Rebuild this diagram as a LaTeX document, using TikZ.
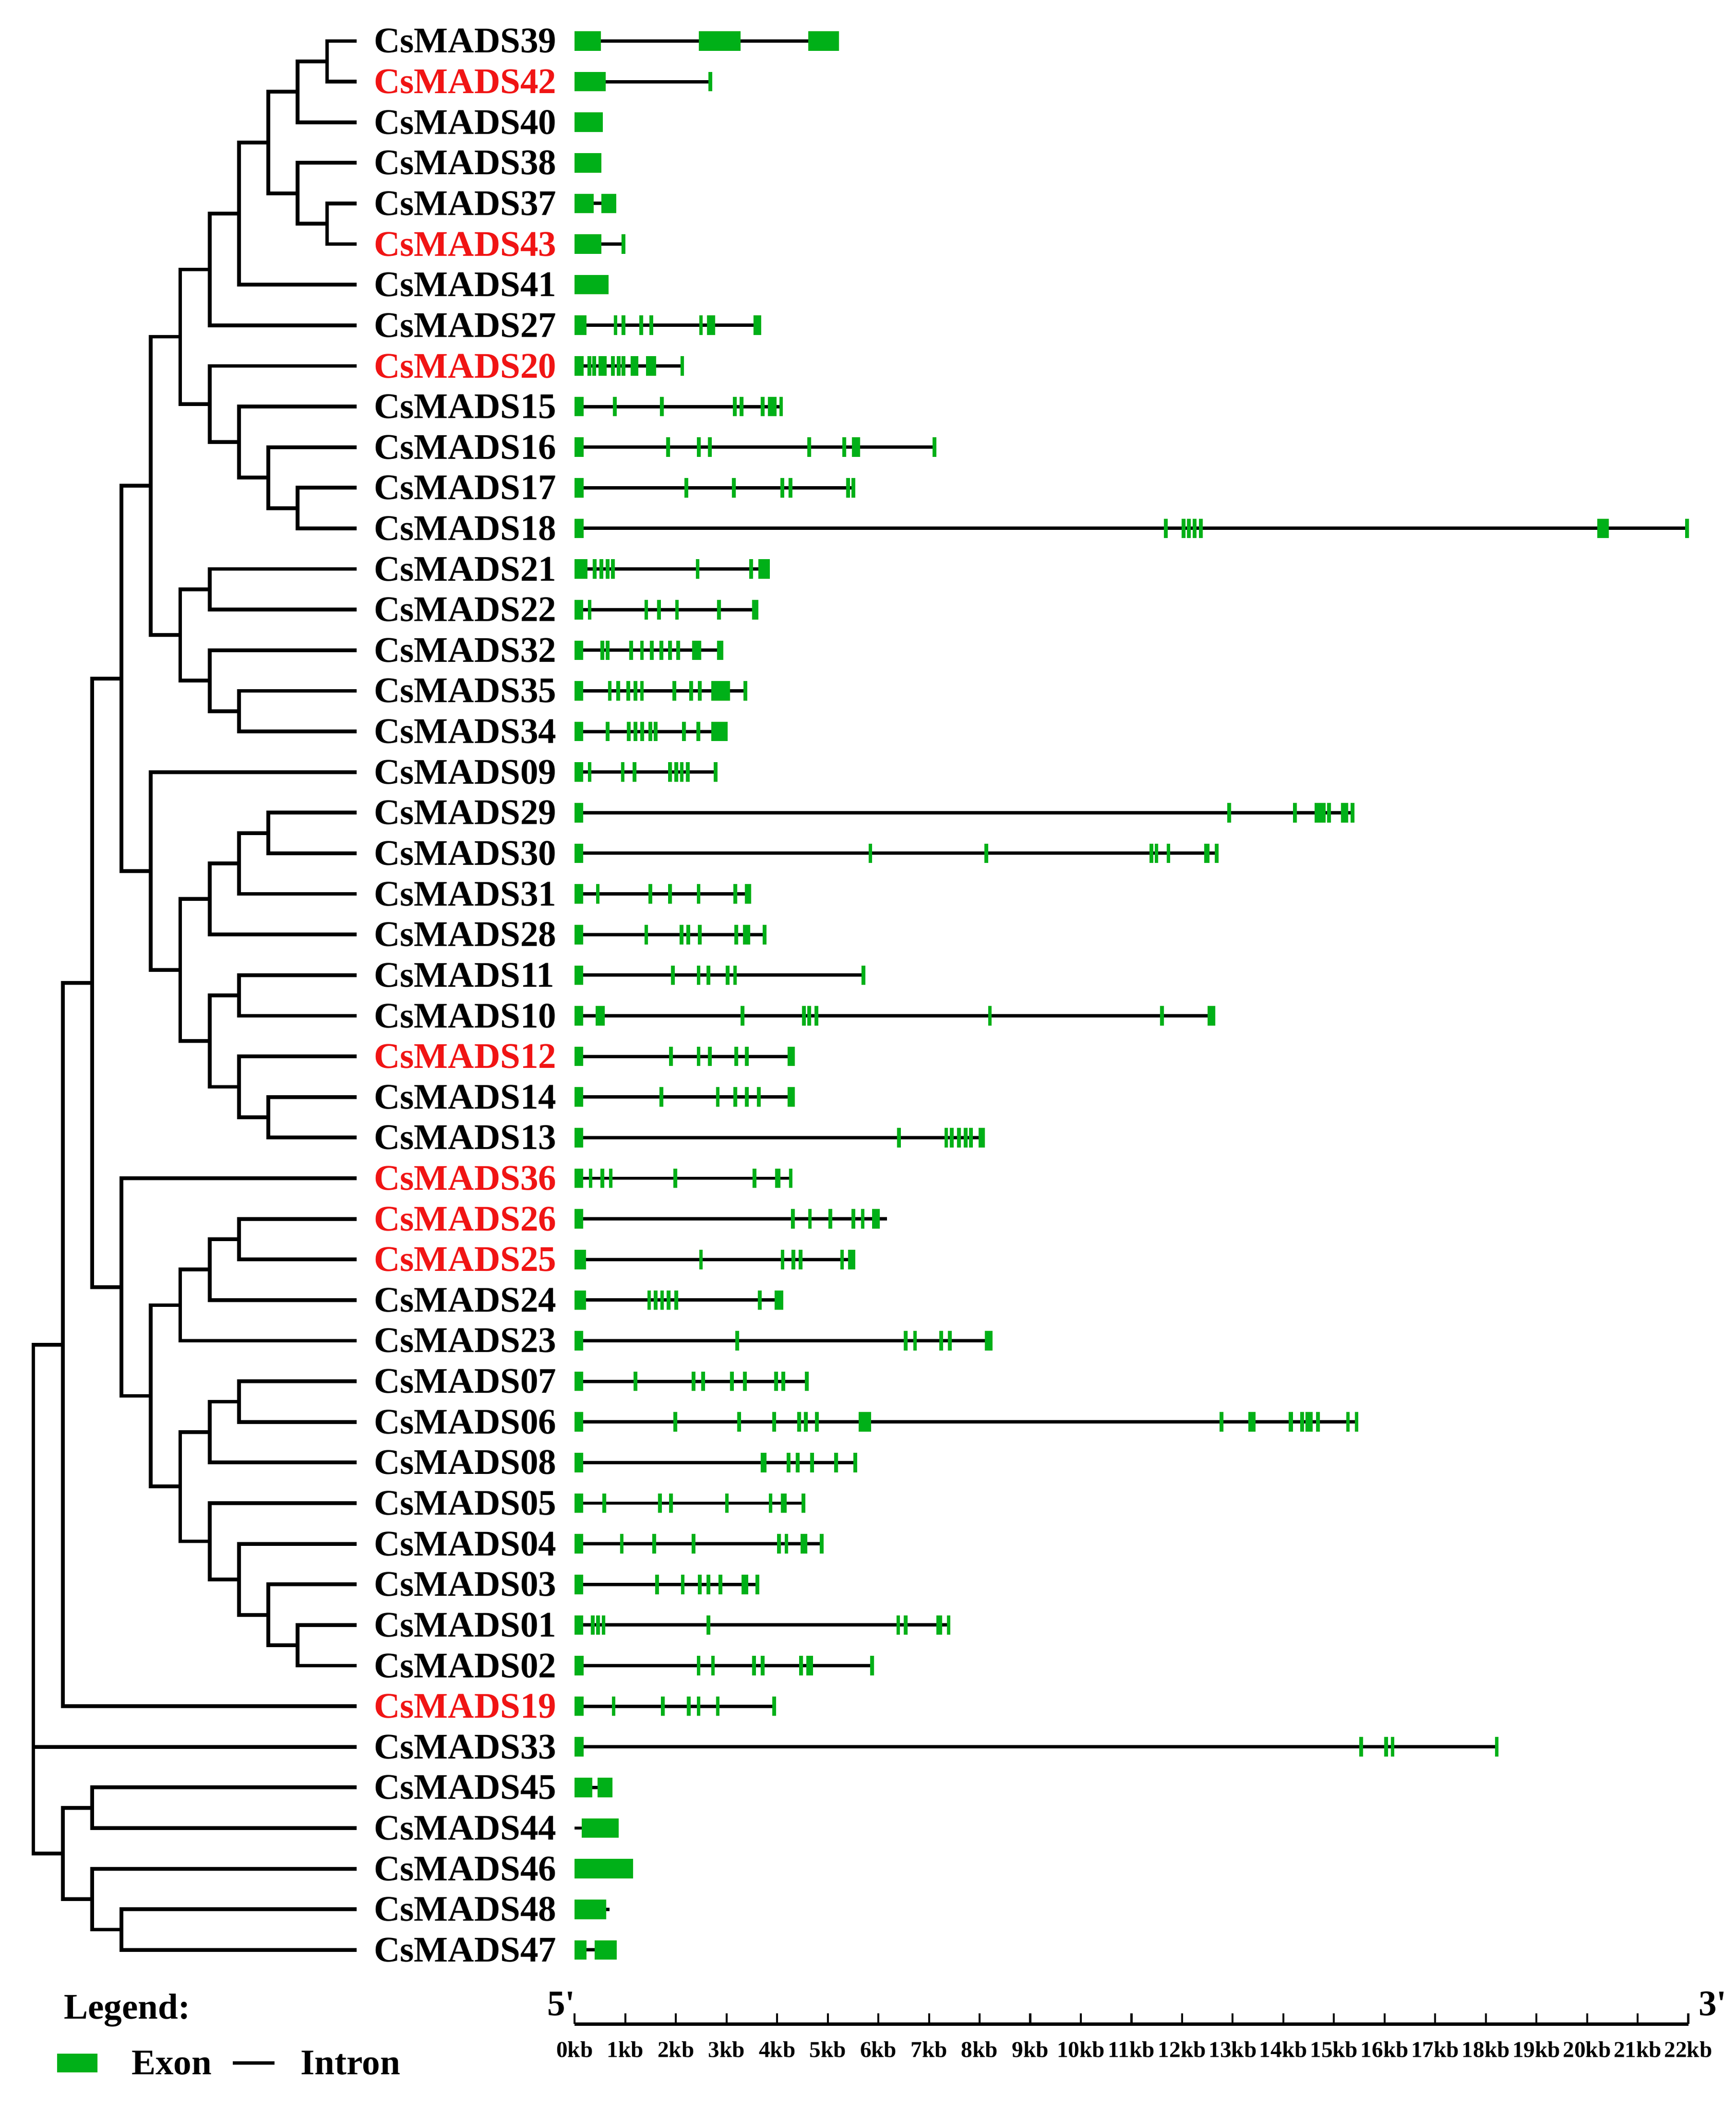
\documentclass[tikz,border=0pt]{standalone}
\usepackage{fontspec}
\setmainfont{Liberation Serif}
\newfontfamily\plainserif{Liberation Serif}[Ligatures=TeXOff]
\definecolor{exg}{RGB}{0,176,24}
\definecolor{lred}{RGB}{240,20,20}
\newcommand\Yr[1]{(30.7+30.42*(#1))}
\newcommand\gene[4]{%
  \draw[intron] (430.4,{\Yr{#1}}) -- (#2,{\Yr{#1}});
  \foreach \a/\b in {#3} {\fill[exg] (\a,{\Yr{#1}-7.3}) rectangle (\b,{\Yr{#1}+7.3});}
  \foreach \t in {#4} {\fill[exg] ({\t-1.4},{\Yr{#1}-7.3}) rectangle ({\t+1.4},{\Yr{#1}+7.3});}
}
\tikzset{
  tree/.style={line width=2.8pt, line join=miter},
  intron/.style={line width=2.5pt},
  axisline/.style={line width=2.8pt},
  tickmark/.style={line width=1.5pt},
  lab/.style={anchor=west, inner sep=0pt, font=\bfseries\fontsize{27}{27}\selectfont},
  kbl/.style={inner sep=0pt, font=\bfseries\fontsize{17}{17}\selectfont},
  legtext/.style={anchor=base west, inner sep=0pt, font=\bfseries\fontsize{27}{27}\selectfont},
  primetext/.style={inner sep=0pt, font=\plainserif\bfseries\fontsize{27}{27}\selectfont}
}
\begin{document}
\begin{tikzpicture}[x=1pt,y=-1pt]
\useasboundingbox (0,0) rectangle (1300.1,1576.6);
\fill[white] (0,0) rectangle (1300.1,1576.6);

% ---------- labels ----------
\foreach \n/\r/\c in {39/0/black,42/1/lred,40/2/black,38/3/black,37/4/black,43/5/lred,41/6/black,27/7/black,20/8/lred,15/9/black,16/10/black,17/11/black,18/12/black,21/13/black,22/14/black,32/15/black,35/16/black,34/17/black,09/18/black,29/19/black,30/20/black,31/21/black,28/22/black,11/23/black,10/24/black,12/25/lred,14/26/black,13/27/black,36/28/lred,26/29/lred,25/30/lred,24/31/black,23/32/black,07/33/black,06/34/black,08/35/black,05/36/black,04/37/black,03/38/black,01/39/black,02/40/black,19/41/lred,33/42/black,45/43/black,44/44/black,46/45/black,48/46/black,47/47/black}
  {\node[lab, text=\c] (g\n) at (280,{\Yr{\r}}) {CsMADS\n};}

% ---------- tree ----------
\foreach \r in {0,...,47} {\coordinate (l\r) at (267,{\Yr{\r}});}
\coordinate (nA) at (245,{\Yr{0.5}});
\coordinate (nB) at (223,{\Yr{1.25}});
\coordinate (nC) at (245,{\Yr{4.5}});
\coordinate (nD) at (223,{\Yr{3.75}});
\coordinate (nE) at (201,{\Yr{2.5}});
\coordinate (nF) at (179,{\Yr{4.25}});
\coordinate (nG) at (157,{\Yr{5.625}});
\coordinate (nH) at (223,{\Yr{11.5}});
\coordinate (nI) at (201,{\Yr{10.75}});
\coordinate (nJ) at (179,{\Yr{9.875}});
\coordinate (nK) at (157,{\Yr{8.9375}});
\coordinate (nL) at (135,{\Yr{7.28}});
\coordinate (nN1) at (157,{\Yr{13.5}});
\coordinate (nN2) at (179,{\Yr{16.5}});
\coordinate (nN3) at (157,{\Yr{15.75}});
\coordinate (nN4) at (135,{\Yr{14.625}});
\coordinate (nM) at (113,{\Yr{10.95}});
\coordinate (nP1) at (201,{\Yr{19.5}});
\coordinate (nP2) at (179,{\Yr{20.25}});
\coordinate (nP3) at (157,{\Yr{21.125}});
\coordinate (nQ1) at (179,{\Yr{23.5}});
\coordinate (nQ2) at (201,{\Yr{26.5}});
\coordinate (nQ3) at (179,{\Yr{25.75}});
\coordinate (nQ4) at (157,{\Yr{24.625}});
\coordinate (nR) at (135,{\Yr{22.875}});
\coordinate (nS) at (113,{\Yr{20.44}});
\coordinate (nT) at (91,{\Yr{15.7}});
\coordinate (nU1) at (179,{\Yr{29.5}});
\coordinate (nU2) at (157,{\Yr{30.25}});
\coordinate (nU3) at (135,{\Yr{31.125}});
\coordinate (nV1) at (179,{\Yr{33.5}});
\coordinate (nV2) at (157,{\Yr{34.25}});
\coordinate (nW1) at (223,{\Yr{39.5}});
\coordinate (nW2) at (201,{\Yr{38.75}});
\coordinate (nW3) at (179,{\Yr{37.875}});
\coordinate (nW4) at (157,{\Yr{36.94}});
\coordinate (nX) at (135,{\Yr{35.59}});
\coordinate (nY) at (113,{\Yr{33.36}});
\coordinate (nZ) at (91,{\Yr{30.68}});
\coordinate (nAA) at (69,{\Yr{23.19}});
\coordinate (nBB) at (47,{\Yr{32.1}});
\coordinate (nCC1) at (69,{\Yr{43.5}});
\coordinate (nCC2) at (91,{\Yr{46.5}});
\coordinate (nCC3) at (69,{\Yr{45.75}});
\coordinate (nDD) at (47,{\Yr{44.625}});
\coordinate (root) at (25,{\Yr{42}});

\foreach \p/\c in {nA/l0,nA/l1,nB/nA,nB/l2,nC/l4,nC/l5,nD/l3,nD/nC,nE/nB,nE/nD,nF/nE,nF/l6,nG/nF,nG/l7,
  nH/l11,nH/l12,nI/l10,nI/nH,nJ/l9,nJ/nI,nK/l8,nK/nJ,nL/nG,nL/nK,
  nN1/l13,nN1/l14,nN2/l16,nN2/l17,nN3/l15,nN3/nN2,nN4/nN1,nN4/nN3,nM/nL,nM/nN4,
  nP1/l19,nP1/l20,nP2/nP1,nP2/l21,nP3/nP2,nP3/l22,nQ1/l23,nQ1/l24,nQ2/l26,nQ2/l27,nQ3/l25,nQ3/nQ2,
  nQ4/nQ1,nQ4/nQ3,nR/nP3,nR/nQ4,nS/l18,nS/nR,nT/nM,nT/nS,
  nU1/l29,nU1/l30,nU2/nU1,nU2/l31,nU3/nU2,nU3/l32,nV1/l33,nV1/l34,nV2/nV1,nV2/l35,
  nW1/l39,nW1/l40,nW2/l38,nW2/nW1,nW3/l37,nW3/nW2,nW4/l36,nW4/nW3,nX/nV2,nX/nW4,nY/nU3,nY/nX,
  nZ/l28,nZ/nY,nAA/nT,nAA/nZ,nBB/nAA,nBB/l41,
  nCC1/l43,nCC1/l44,nCC2/l46,nCC2/l47,nCC3/l45,nCC3/nCC2,nDD/nCC1,nDD/nCC3,
  root/nBB,root/l42,root/nDD}
  {\draw[tree] (\p) |- (\c);}

% ---------- gene structures ----------
\gene{0}{628.4}{430.4/450, 523.5/554.8, 605.5/628.4}{432}
\gene{1}{532.5}{430.4/453.5}{532}
\gene{2}{451.4}{430.4/451.4}{432}
\gene{3}{450.5}{430.4/450.5}{432}
\gene{4}{461.6}{430.4/444.6, 450.5/461.6}{432}
\gene{5}{467.8}{430.4/450.5}{467}
\gene{6}{455.9}{430.4/455.9}{432}
\gene{7}{570}{430.4/439.2, 529.5/535.5, 564.5/570}{461, 467, 480.3, 487.8, 525}
\gene{8}{511.6}{430.4/437.1, 448.4/454.4, 472.3/478.2, 483.9/491.4}{441.5, 445, 458.9, 463.4, 467, 511}
\gene{9}{585.5}{430.4/437.1, 575/581.6}{460.4, 495.8, 550.4, 555.4, 571.2, 585}
\gene{10}{700.3}{430.4/437.1, 638/644.2}{500.3, 523.5, 531.6, 606, 632.3, 700}
\gene{11}{640}{430.4/437.1}{514, 549.5, 586, 592, 635.3, 639.2}
\gene{12}{1263.7}{430.4/437.1, 1196.4/1204.8}{873.1, 886.3, 890.5, 894.7, 899.5, 1263.5}
\gene{13}{576.5}{430.4/440, 568/576.5}{445.5, 450.3, 455.1, 459, 522.5, 562.6}
\gene{14}{568.1}{430.4/436.8, 563.3/568.1}{441.6, 484, 493.6, 507, 538.6}
\gene{15}{541.8}{430.4/436.8, 518.4/525.1, 537/541.8}{451, 455, 472.8, 480.8, 488.2, 495.2, 501.7, 508}
\gene{16}{558.5}{430.4/436.8, 522.5/525.7, 532.8/546.6}{456.7, 463, 470.5, 476, 480.8, 505, 517.7, 558.3}
\gene{17}{545}{430.4/436.8, 532.8/545}{455, 471, 476, 481, 487, 491, 512.3, 523}
\gene{18}{536}{430.4/436.8}{441.6, 466.4, 475.3, 501.7, 506.5, 510.6, 515.1, 536}
\gene{19}{1013.4}{430.4/436.8, 1004.2/1009.8}{920.5, 969.9, 985.9, 988.7, 991.5, 995.2, 1013}
\gene{20}{911.6}{430.4/436.8, 901.7/906}{651.9, 738.6, 862.4, 866.1, 875.1, 911.3}
\gene{21}{562.6}{430.4/436.8, 557.8/562.6}{447.7, 487.2, 501.7, 523.2, 550.8}
\gene{22}{573}{430.4/436.8, 556.5/561.7}{484, 510.3, 515.5, 524.1, 551.4, 572.5}
\gene{23}{647}{430.4/436.8}{504, 523.2, 530.6, 545, 550.5, 646.7}
\gene{24}{910}{430.4/436.8, 446.1/452.9, 904.5/910}{556.2, 602.1, 606, 611.4, 741.4, 870.2}
\gene{25}{595.4}{430.4/436.8, 590/595.4}{502.6, 523.2, 531.5, 551.4, 559.4}
\gene{26}{595.4}{430.4/436.8, 590/595.4}{495.2, 537.6, 550.8, 559.4, 568.4}
\gene{27}{737.6}{430.4/436.8, 732.8/737.6}{673.4, 708.7, 712.9, 718.3, 723.2, 727.3}
\gene{28}{592.5}{430.4/436.8, 580.5/584.5}{442.3, 451, 457.4, 505.8, 565.2, 592.2}
\gene{29}{664.4}{430.4/436.8, 653.2/659}{593.8, 606.6, 622, 639, 646.1}
\gene{30}{640.6}{430.4/439, 635/640.6}{525, 586.1, 594.1, 599.6, 630.7}
\gene{31}{586.7}{430.4/439, 580.3/586.7}{486.2, 491, 495.9, 500.7, 506.5, 569}
\gene{32}{743.4}{430.4/436.8, 737.6/743.4}{552, 678.2, 685.3, 704.8, 711.3}
\gene{33}{604.4}{430.4/436.8}{476, 519.3, 526.7, 548.2, 557.8, 581.3, 586.7, 604.2}
\gene{34}{1016.7}{430.4/436.8, 642.9/652.5, 934.9/940.3, 965.2/968.4}{505.8, 553.7, 579.7, 598.6, 603.4, 611.8, 914.8, 975.1, 979.2, 981.8, 987.2, 1009.5, 1016}
\gene{35}{640.7}{430.4/436.8, 569.7/573.9}{590.6, 597.3, 608.2, 626.2, 640.5}
\gene{36}{601.8}{430.4/436.8, 585/589}{452.5, 494.3, 502.6, 544.4, 577.1, 601.6}
\gene{37}{615.6}{430.4/436.8, 599.5/604.5}{465.7, 489.8, 519.3, 583.5, 589, 615.4}
\gene{38}{567.5}{430.4/436.8, 555.3/560.4}{492, 511.3, 524.1, 530.6, 539.5, 567.3}
\gene{39}{711}{430.4/436.8, 701.3/705.5}{443.9, 448, 452, 530.6, 672.7, 678.2, 710.5}
\gene{40}{653.2}{430.4/437.1, 604/608.9}{523.2, 534, 564.6, 571.3, 599.9, 653}
\gene{41}{580}{430.4/437.1}{459.6, 496.5, 515.8, 523.2, 537.6, 579.8}
\gene{42}{1121.2}{430.4/437.1}{1019.4, 1038, 1043, 1121}
\gene{43}{458.6}{430.4/443.6, 447.7/458.6}{432}
\gene{44}{463.5}{435.5/463.5}{440}
\gene{45}{474}{430.4/474}{432}
\gene{46}{456.4}{430.4/454.1}{432}
\gene{47}{461.8}{430.4/439.4, 445.2/461.8}{432}

% ---------- scale axis ----------
\coordinate (ax0) at (430.4,1516);
\coordinate (ax1) at (1264.6,1516);
\draw[axisline] (ax0) -- (ax1);
\foreach \kk in {0,...,22} {
  \draw[tickmark] ({430.4+37.91*\kk},1516) -- ++(0,-8);
  \node[kbl] (kb\kk) at ({430.4+37.91*\kk},1535) {\kk kb};
}
\node[primetext, anchor=base east] (five) at (431,1509.5) {5'};
\node[primetext, anchor=base west] (three) at (1272,1509.5) {3'};

% ---------- legend ----------
\node[legtext] (leg) at (47.7,1512) {Legend:};
\fill[exg] (42.6,1538) rectangle (73,1552);
\node[legtext] (exon) at (98.3,1553.8) {Exon};
\coordinate (ia) at (174.3,1545);
\coordinate (ib) at (205.6,1545);
\draw[line width=2.6pt] (ia) -- (ib);
\node[legtext] (intr) at (225,1553.8) {Intron};
\end{tikzpicture}
\end{document}
